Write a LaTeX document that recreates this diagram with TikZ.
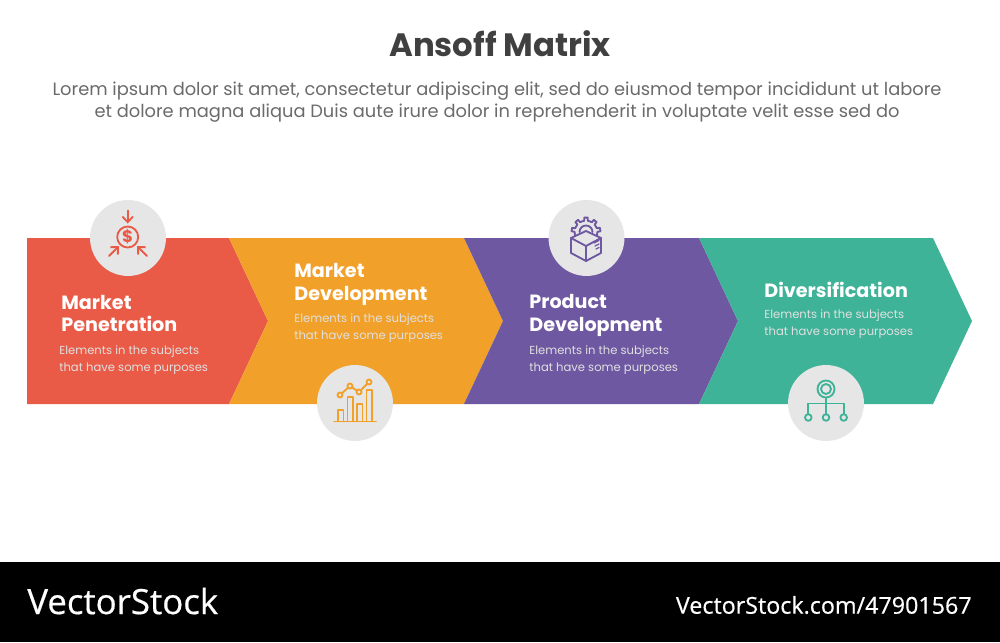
\documentclass[tikz,border=0pt]{standalone}
\usepackage{fontspec}
\setmainfont{Poppins}
\newfontfamily\stockfont[FakeBold=0.5]{Open Sans}
\usetikzlibrary{calc, positioning, shapes, arrows.meta}
\definecolor{redstep}{HTML}{E95B47}
\definecolor{orangestep}{HTML}{F1A02A}
\definecolor{purplestep}{HTML}{6E58A1}
\definecolor{greenstep}{HTML}{3EB398}
\definecolor{greytext}{HTML}{6B6B6B}
\definecolor{darktext}{HTML}{404040}
\definecolor{badgegrey}{HTML}{E6E6E6}
\tikzstyle{badge}=[circle,fill=badgegrey,minimum size=43.2pt,inner sep=0pt]
\tikzstyle{headline}=[anchor=west,align=left,text=white,font=\fontsize{10.9}{12.9}\selectfont\bfseries,inner sep=0pt]
\tikzstyle{blurb}=[anchor=west,align=left,text=white!88!black,font=\fontsize{6.6}{9.7}\selectfont,inner sep=0pt]
\tikzstyle{icon}=[line width=1.05pt,line cap=round,line join=round]
\tikzstyle{tipped}=[icon,-{Straight Barb[length=3.2pt,width=6pt]}]
\begin{document}
\begin{tikzpicture}[x=0.02cm,y=-0.02cm]
		\useasboundingbox (0,0) rectangle (1000,642);
		\fill[white] (0,0) rectangle (1000,642);
		\fill[black] (0,562) rectangle (1000,642);
		% the four arrow blocks
		\fill[redstep] (27,238) -- (229,238) -- (268,321) -- (229,404) -- (27,404) -- cycle;
		\fill[orangestep] (229,238) -- (464,238) -- (503,321) -- (464,404) -- (229,404) -- (268,321) -- cycle;
		\fill[purplestep] (464,238) -- (699,238) -- (738,321) -- (699,404) -- (464,404) -- (503,321) -- cycle;
		\fill[greenstep] (699,238) -- (933,238) -- (972,321) -- (933,404) -- (699,404) -- (738,321) -- cycle;
		% header
		\node[text=darktext,font=\fontsize{18.4}{24}\selectfont\bfseries] (title) at (500,44) {Ansoff Matrix};
		\node[text=greytext,font=\fontsize{10.15}{12.6}\selectfont,align=center] (intro) at (497,102) {Lorem ipsum dolor sit amet, consectetur adipiscing elit, sed do eiusmod tempor incididunt ut labore\\et dolore magna aliqua Duis aute irure dolor in reprehenderit in voluptate velit esse sed do};
		% step texts
		\node[headline] (H-1) at (61,313.5) {Market\\Penetration};
		\node[blurb] (B-1) at (59,360.5) {Elements in the subjects\\that have some purposes};
		\node[headline] (H-2) at (294,284.5) {Market\\Development};
		\node[blurb] (B-2) at (294,328.5) {Elements in the subjects\\that have some purposes};
		\node[headline] (H-3) at (529,315.5) {Product\\Development};
		\node[blurb] (B-3) at (529,360.5) {Elements in the subjects\\that have some purposes};
		\node[headline] (H-4) at (764,290) {Diversification};
		\node[blurb] (B-4) at (764,324.5) {Elements in the subjects\\that have some purposes};
		% badges
		\node[badge] (C-1) at (128,238) {};
		\node[badge] (C-2) at (355,403) {};
		\node[badge] (C-3) at (586.5,238) {};
		\node[badge] (C-4) at (826,403) {};
		% money icon
		\draw[icon,redstep] (127.7,237) circle (10.5);
		\node[text=redstep,font=\fontsize{9.5}{9.5}\selectfont\bfseries,inner sep=0pt] (dollar) at (127.7,237) {\$};
		\draw[tipped,redstep] (127.7,210.5) -- (127.7,223.5);
		\draw[tipped,redstep] (109,256) -- (119,246);
		\draw[tipped,redstep] (147,256) -- (137,246);
		% chart icon
		\draw[icon,orangestep] (334,421.5) -- (376,421.5);
		\foreach \x/\t in {338/410,347.5/397,357/404,366.5/390}
			\draw[icon,orangestep] (\x,421.5) -- (\x,\t) -- ++(5.5,0) -- ++(0,421.5-\t);
		\draw[icon,orangestep] (340,395) -- (350,386) -- (359,392) -- (369,382);
		\foreach \x/\y in {340/395,350/386,359/392,369/382}
			\draw[icon,orangestep,fill=badgegrey] (\x,\y) circle (2.5);
		% box and gear icon
		\begin{scope}[shift={(586,232)},y=0.02cm]
			\foreach \a in {10,50,90,130,170}
				\draw[icon,purplestep] (\a-9:11.5) -- (\a-7:14.5) -- (\a+7:14.5) -- (\a+9:11.5);
			\foreach \a in {19,59,99,139}
				\draw[icon,purplestep] (\a:11.5) arc (\a:\a+22:11.5);
			\draw[icon,purplestep] (1:11.5) arc (1:-20:11.5);
			\draw[icon,purplestep] (179:11.5) arc (179:200:11.5);
			\draw[icon,purplestep] (0:6.5) arc (0:180:6.5);
		\end{scope}
		\draw[icon,purplestep,fill=badgegrey] (586,231) -- (601,238) -- (601,253) -- (586,261) -- (571,253) -- (571,238) -- cycle;
		\draw[icon,purplestep] (571,238) -- (586,246) -- (601,238);
		\draw[icon,purplestep] (586,246) -- (586,261);
		\draw[icon,purplestep,line width=0.7pt] (594,243) -- (599,240.5) (595,246) -- (599,244) (596,249) -- (599,247.5);
		% tree icon
		\draw[icon,greenstep] (826,389) circle (8.5);
		\draw[icon,greenstep] (826,389) circle (5);
		\draw[icon,greenstep] (826,397.5) -- (826,414);
		\draw[icon,greenstep] (808.3,414) -- (808.3,403.5) -- (843.7,403.5) -- (843.7,414);
		\foreach \x in {808.3,826,843.7}
			\draw[icon,greenstep] (\x,417.5) circle (3.3);
		% footer
		\node[anchor=west,text=white,font=\stockfont\fontsize{19.8}{24}\selectfont,inner sep=0pt] (brand) at (27,601) {VectorStock};
		\node[anchor=east,text=white,font=\stockfont\fontsize{13.25}{16}\selectfont,inner sep=0pt] (link) at (972,605) {VectorStock.com/47901567};
	\end{tikzpicture}
\end{document}
